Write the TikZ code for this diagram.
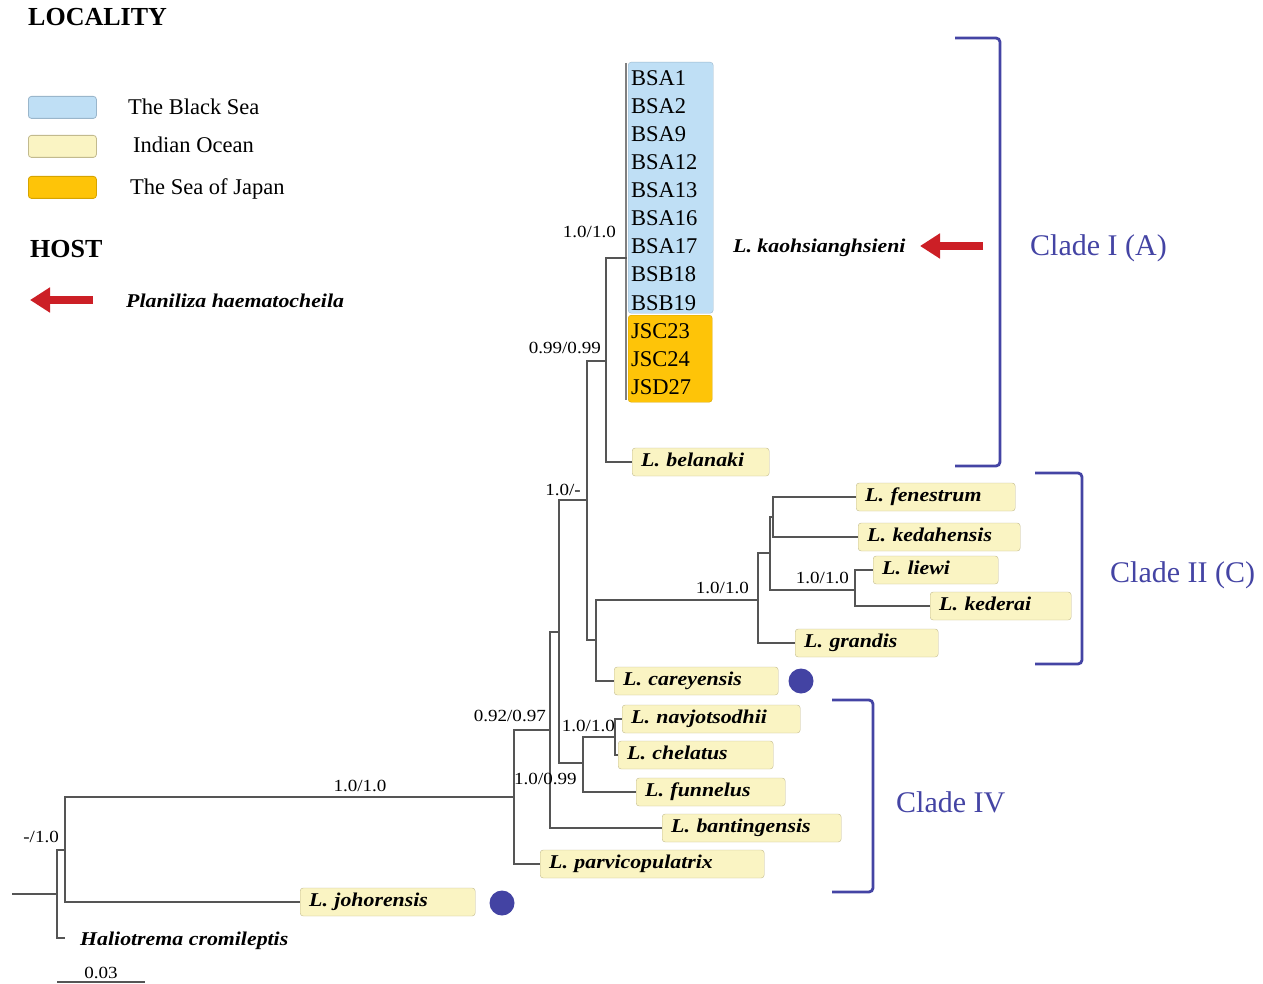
\documentclass[tikz,border=0pt]{standalone}
\usepackage{fontspec}
\setmainfont{Liberation Serif}
\newfontfamily\spf[FakeStretch=1.12]{Liberation Serif}
\usetikzlibrary{arrows.meta}
\definecolor{leaffill}{HTML}{FAF4C3}
\definecolor{leafborder}{HTML}{C2BA8E}
\definecolor{bsfill}{HTML}{BFDFF5}
\definecolor{bsborder}{HTML}{9AB6CB}
\definecolor{jsfill}{HTML}{FEC408}
\definecolor{jsborder}{HTML}{D6A400}
\definecolor{treegray}{HTML}{555555}
\definecolor{cladeblue}{HTML}{4444A4}
\definecolor{dotblue}{HTML}{4343A3}
\definecolor{arrowred}{HTML}{CC1F26}
\begin{document}
\begin{tikzpicture}[x=1pt,y=-1pt,
  tree/.style={draw=treegray, line width=1.1pt},
  leaf/.style={draw=leafborder, fill=leaffill, rounded corners=3pt, anchor=west, minimum height=28pt, inner xsep=9pt, inner ysep=0pt, align=left, text height=13pt, text depth=4pt, font=\spf\fontsize{19.5}{20}\selectfont\bfseries\itshape},
  spname/.style={font=\spf\fontsize{19.5}{20}\selectfont\bfseries\itshape, inner sep=0pt, anchor=base west},
  supp/.style={font=\spf\fontsize{17}{18}\selectfont, inner sep=0pt},
  bstext/.style={font=\fontsize{22.5}{24}\selectfont, inner sep=0pt, anchor=base west},
  legtext/.style={font=\fontsize{22.5}{24}\selectfont, inner sep=0pt, anchor=base west},
  headtext/.style={font=\fontsize{26}{28}\selectfont\bfseries, inner sep=0pt, anchor=base west},
  cladetext/.style={font=\fontsize{30}{32}\selectfont, text=cladeblue, inner sep=0pt, anchor=base west},
  bracket/.style={draw=cladeblue, line width=2.8pt, rounded corners=4pt},
  dot/.style={circle, fill=dotblue, minimum size=25pt, inner sep=0pt},
  legbox/.style={rounded corners=3pt, anchor=north west, minimum width=68pt, minimum height=22pt, inner sep=0pt, line width=0.8pt},
  redarrow/.style={draw=arrowred, line width=8pt, -{Triangle[length=20pt,width=24pt]}}
]
\useasboundingbox (0,0) rectangle (1263,984);

% ---------- legend ----------
\node[headtext] (loc) at (28,26) {LOCALITY};
\node[legbox, fill=bsfill, draw=bsborder] (lg1) at (28,96) {};
\node[legbox, fill=leaffill, draw=leafborder] (lg2) at (28,135) {};
\node[legbox, fill=jsfill, draw=jsborder] (lg3) at (28,176) {};
\node[legtext] (lt1) at (128,115) {The Black Sea};
\node[legtext] (lt2) at (133,153) {Indian Ocean};
\node[legtext] (lt3) at (130,195) {The Sea of Japan};
\node[headtext] (host) at (30,258) {HOST};
\coordinate (ha1) at (93,300);
\coordinate (ha2) at (30,300);
\draw[redarrow] (ha1) -- (ha2);
\node[spname] (plan) at (126,307) {Planiliza haematocheila};

% ---------- collapsed BS / JS group ----------
\node[draw=bsborder, fill=bsfill, rounded corners=3pt, anchor=north west, minimum width=85pt, minimum height=251pt, inner sep=0pt] (bsbox) at (628,62) {};
\node[draw=jsborder, fill=jsfill, rounded corners=3pt, anchor=north west, minimum width=84pt, minimum height=87pt, inner sep=0pt] (jsbox) at (628,315) {};
\foreach \t [count=\i] in {BSA1,BSA2,BSA9,BSA12,BSA13,BSA16,BSA17,BSB18,BSB19,JSC23,JSC24,JSD27}
  \node[bstext] (s\i) at (631,{58+28*\i}) {\t};
\coordinate (grpTop) at (626,63);
\coordinate (grpBot) at (626,400);
\draw[draw=gray, line width=2pt] (grpTop) -- (grpBot);

\node[spname] (kao) at (733,253) {L. kaohsianghsieni};
\coordinate (ka1) at (983,246);
\coordinate (ka2) at (920,246);
\draw[redarrow] (ka1) -- (ka2);

% ---------- leaves ----------
\node[leaf, text width=119pt] (bel) at (632,462) {L. belanaki};
\node[leaf, text width=141pt] (fen) at (856,497) {L. fenestrum};
\node[leaf, text width=144pt] (ked) at (858,537) {L. kedahensis};
\node[leaf, text width=107pt] (lie) at (873,570) {L. liewi};
\node[leaf, text width=123pt] (kdr) at (930,606) {L. kederai};
\node[leaf, text width=125pt] (gra) at (795,643) {L. grandis};
\node[leaf, text width=146pt] (car) at (614,681) {L. careyensis};
\node[leaf, text width=160pt] (nav) at (622,719) {L. navjotsodhii};
\node[leaf, text width=137pt] (che) at (618,755) {L. chelatus};
\node[leaf, text width=131pt] (fun) at (636,792) {L. funnelus};
\node[leaf, text width=161pt] (ban) at (662,828) {L. bantingensis};
\node[leaf, text width=206pt] (par) at (540,864) {L. parvicopulatrix};
\node[leaf, text width=157pt] (joh) at (300,902) {L. johorensis};
\node[spname] (hal) at (80,945) {Haliotrema cromileptis};

\node[dot] (d1) at (801,681) {};
\node[dot] (d2) at (502,903) {};

% ---------- internal nodes ----------
\coordinate (r0) at (12,894);
\coordinate (root) at (57,894);
\coordinate (halend) at (65,938);
\coordinate (nA) at (65,850);
\coordinate (nB) at (514,797);
\coordinate (nC) at (550,730);
\coordinate (nD) at (559,632);
\coordinate (nE) at (587,500);
\coordinate (nF) at (583,763);
\coordinate (nG) at (615,737);
\coordinate (nH) at (606,361);
\coordinate (nI) at (596,640);
\coordinate (nJ) at (627,258);
\coordinate (nK) at (758,600);
\coordinate (nL) at (770,553);
\coordinate (nM) at (773,517);
\coordinate (nN) at (855,590);

% ---------- branches ----------
\draw[tree] (r0) -- (root);
\draw[tree] (root) |- (nA);
\draw[tree] (root) |- (halend);
\draw[tree] (nA) |- (nB);
\draw[tree] (nA) |- (joh.west);
\draw[tree] (nB) |- (nC);
\draw[tree] (nB) |- (par.west);
\draw[tree] (nC) |- (nD);
\draw[tree] (nC) |- (ban.west);
\draw[tree] (nD) |- (nE);
\draw[tree] (nD) |- (nF);
\draw[tree] (nF) |- (nG);
\draw[tree] (nF) |- (fun.west);
\draw[tree] (nG) |- (nav.west);
\draw[tree] (nG) |- (che.west);
\draw[tree] (nE) |- (nH);
\draw[tree] (nE) |- (nI);
\draw[tree] (nH) |- (nJ);
\draw[tree] (nH) |- (bel.west);
\draw[tree] (nI) |- (nK);
\draw[tree] (nI) |- (car.west);
\draw[tree] (nK) |- (nL);
\draw[tree] (nK) |- (gra.west);
\draw[tree] (nL) |- (nM);
\draw[tree] (nL) |- (nN);
\draw[tree] (nM) |- (fen.west);
\draw[tree] (nM) |- (ked.west);
\draw[tree] (nN) |- (lie.west);
\draw[tree] (nN) |- (kdr.west);

% ---------- support values ----------
\node[supp, anchor=base east] (l1) at (616,238) {1.0/1.0};
\node[supp, anchor=base east] (l2) at (601,353) {0.99/0.99};
\node[supp, anchor=base east] (l3) at (581,495) {1.0/-};
\node[supp, anchor=base east] (l4) at (749,593) {1.0/1.0};
\node[supp, anchor=base east] (l5) at (849,583) {1.0/1.0};
\node[supp, anchor=base east] (l6) at (546,721) {0.92/0.97};
\node[supp, anchor=base east] (l7) at (615,731) {1.0/1.0};
\node[supp, anchor=base west] (l8) at (514,784) {1.0/0.99};
\node[supp, anchor=base] (l9) at (360,791) {1.0/1.0};
\node[supp, anchor=base east] (l10) at (59,842) {-/1.0};

% ---------- scale bar ----------
\node[supp, anchor=base] (sc) at (101,978) {0.03};
\coordinate (sb1) at (57,982);
\coordinate (sb2) at (145,982);
\draw[draw=treegray, line width=1.1pt] (sb1) -- (sb2);

% ---------- clade brackets ----------
\draw[bracket] (955,38) -- (1000,38) -- (1000,466) -- (955,466);
\node[cladetext] (c1) at (1030,256) {Clade I (A)};
\draw[bracket] (1035,473) -- (1082,473) -- (1082,664) -- (1035,664);
\node[cladetext] (c2) at (1110,582) {Clade II (C)};
\draw[bracket] (832,700) -- (873,700) -- (873,892) -- (832,892);
\node[cladetext] (c3) at (896,812) {Clade IV};
\end{tikzpicture}
\end{document}
